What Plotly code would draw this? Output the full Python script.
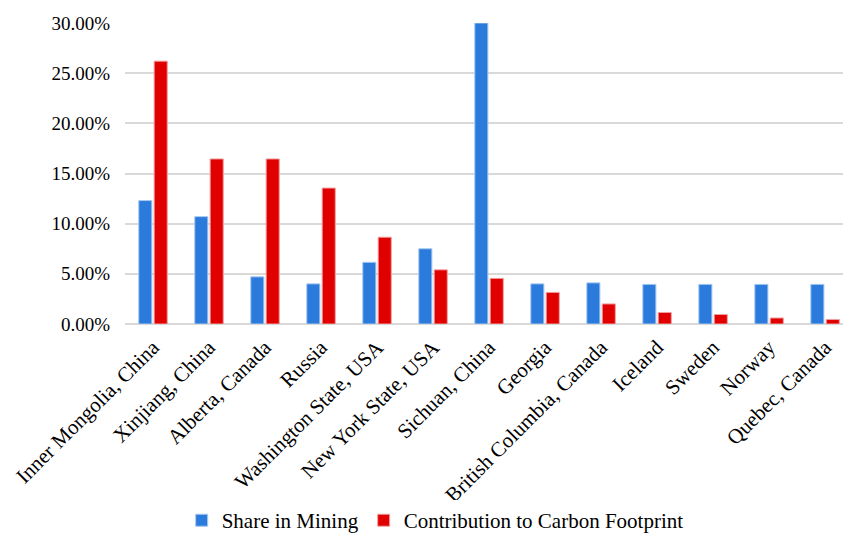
import plotly.graph_objects as go

regions = [
    "Inner Mongolia, China", "Xinjiang, China", "Alberta, Canada", "Russia",
    "Washington State, USA", "New York State, USA", "Sichuan, China", "Georgia",
    "British Columbia, Canada", "Iceland", "Sweden", "Norway", "Quebec, Canada",
]
share_in_mining = [12.3, 10.7, 4.7, 4.0, 6.15, 7.5, 30.0, 4.0, 4.1, 3.95, 3.95, 3.95, 3.95]
carbon_contribution = [26.2, 16.45, 16.45, 13.55, 8.65, 5.4, 4.55, 3.15, 2.0, 1.15, 0.95, 0.6, 0.45]
y_ticks = [0, 5, 10, 15, 20, 25, 30]
y_tick_labels = [f"{v:.2f}%" for v in y_ticks]

FONT = "Liberation Serif"

fig = go.Figure()
fig.add_trace(go.Bar(
    name="Share in Mining", x=regions, y=share_in_mining,
    marker=dict(color="#2b7bdc", line=dict(color="#a8c8f0", width=1)),
))
fig.add_trace(go.Bar(
    name="Contribution to Carbon Footprint", x=regions, y=carbon_contribution,
    marker=dict(color="#e00000", line=dict(color="#f0a0a0", width=1)),
))

fig.update_layout(
    width=843, height=536,
    margin=dict(l=125, r=0, t=23, b=212, autoexpand=False),
    paper_bgcolor="white", plot_bgcolor="white",
    barmode="group", bargap=0.45, bargroupgap=0.15,
    font=dict(family=FONT, size=21, color="black"),
    showlegend=True,
    legend=dict(
        orientation="h", x=0.432, xanchor="center", y=-0.585, yanchor="top",
        font=dict(family=FONT, size=21, color="black"),
        itemwidth=30, traceorder="normal",
    ),
    xaxis=dict(
        range=[-0.5, 12.32], tickangle=-45, showgrid=False, showline=False,
        ticks="", ticklabelstandoff=6, automargin=False,
        tickfont=dict(family=FONT, size=21, color="black"),
    ),
    yaxis=dict(
        range=[0, 30], tickvals=y_ticks, ticktext=y_tick_labels,
        showgrid=True, gridcolor="#d9d9d9", gridwidth=1.5,
        zeroline=True, zerolinecolor="#d9d9d9", zerolinewidth=1.5,
        showline=False, ticks="", ticklabelstandoff=14, automargin=False,
        tickfont=dict(family=FONT, size=19, color="black"),
    ),
)

fig.write_html("out.html")
